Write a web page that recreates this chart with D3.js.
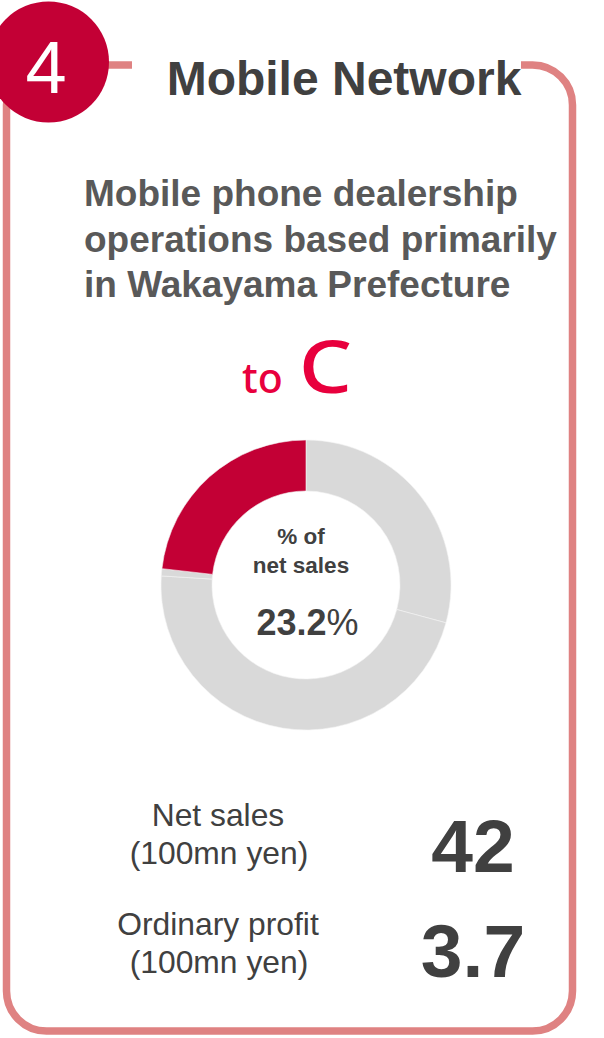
<!DOCTYPE html>
<html>
<head>
<meta charset="utf-8">
<script src="https://cdn.jsdelivr.net/npm/d3@7"></script>
<style>
  html, body { margin: 0; padding: 0; background: #ffffff; }
  svg { display: block; }
</style>
</head>
<body>
<svg id="card" width="604" height="1038"></svg>
<script>
// Segment card: Mobile Network
const segmentNumber = "4";
const segmentTitle = "Mobile Network";
const descriptionLines = [
  "Mobile phone dealership",
  "operations based primarily",
  "in Wakayama Prefecture"
];
const customerPrefix = "to";
const customerType = "C";

// Share of consolidated net sales (%), clockwise from 12 o'clock
const sliceNames = ["Other segment A", "Other segment B", "Other segment C", "Mobile Network"];
const sliceShares = [29.2, 46.8, 0.8, 23.2];
const highlightName = "Mobile Network";
const centerLabelLines = ["% of", "net sales"];

// Key figures
const metricNames = ["Net sales", "Ordinary profit"];
const metricUnits = ["(100mn yen)", "(100mn yen)"];
const metricValues = [42, 3.7];

const RED = "#c30035";
const ACCENT = "#e8003d";
const BORDER = "#df8282";
const GREY = "#d9d9d9";
const DARK = "#404040";
const MID = "#595959";
const SANS = "'Liberation Sans', Arial, sans-serif";
const ROUND = "'Noto Sans', Lato, sans-serif";

const svg = d3.select("#card");

// ---- Card frame ----
const L = 6.5, R = 572.5, T = 65, B = 1031, rad = 40;
const frame = d3.path();
frame.moveTo(521, T);
frame.lineTo(R - rad, T);
frame.arcTo(R, T, R, T + rad, rad);
frame.lineTo(R, B - rad);
frame.arcTo(R, B, R - rad, B, rad);
frame.lineTo(L + rad, B);
frame.arcTo(L, B, L, B - rad, rad);
frame.lineTo(L, T + rad);
frame.arcTo(L, T, L + rad, T, rad);
frame.lineTo(132, T);
svg.append("path")
  .attr("d", frame.toString())
  .attr("fill", "none")
  .attr("stroke", BORDER)
  .attr("stroke-width", 7.5);

// ---- Number badge ----
svg.append("circle")
  .attr("cx", 48.5).attr("cy", 62).attr("r", 60.5)
  .attr("fill", RED);
svg.append("text")
  .attr("x", 46).attr("y", 93)
  .attr("text-anchor", "middle")
  .attr("font-family", SANS)
  .attr("font-size", 74)
  .attr("fill", "#ffffff")
  .text(segmentNumber);

// ---- Title ----
svg.append("text")
  .attr("x", 344).attr("y", 95)
  .attr("text-anchor", "middle")
  .attr("font-family", SANS)
  .attr("font-weight", "bold")
  .attr("font-size", 48)
  .attr("fill", DARK)
  .text(segmentTitle);

// ---- Description ----
svg.append("g")
  .selectAll("text")
  .data(descriptionLines)
  .join("text")
  .attr("x", 84)
  .attr("y", (d, i) => 206 + i * 45.5)
  .attr("font-family", SANS)
  .attr("font-weight", "bold")
  .attr("font-size", 37)
  .attr("fill", MID)
  .text(d => d);

// ---- Customer type ----
svg.append("text")
  .attr("x", 242).attr("y", 393)
  .attr("font-family", ROUND)
  .attr("font-weight", 500)
  .attr("font-size", 41)
  .attr("fill", ACCENT)
  .text(customerPrefix);
svg.append("text")
  .attr("transform", "translate(325.5,393) scale(1.15,1)")
  .attr("text-anchor", "middle")
  .attr("font-family", ROUND)
  .attr("font-weight", 500)
  .attr("font-size", 73)
  .attr("fill", ACCENT)
  .text(customerType);

// ---- Donut ----
const cx = 306, cy = 585, outerR = 145, innerR = 94;
const pie = d3.pie().sort(null).value(d => d.share);
const arc = d3.arc().innerRadius(innerR).outerRadius(outerR);
const slices = sliceNames.map((name, i) => ({ name, share: sliceShares[i] }));

const donut = svg.append("g").attr("transform", `translate(${cx},${cy})`);
donut.selectAll("path")
  .data(pie(slices))
  .join("path")
  .attr("d", arc)
  .attr("fill", d => d.data.name === highlightName ? RED : GREY)
  .attr("stroke", "#f4f4f4")
  .attr("stroke-width", 0.6);

donut.selectAll("text.lbl")
  .data(centerLabelLines)
  .join("text")
  .attr("class", "lbl")
  .attr("x", -5)
  .attr("y", (d, i) => -41 + i * 28.5)
  .attr("text-anchor", "middle")
  .attr("font-family", SANS)
  .attr("font-weight", "bold")
  .attr("font-size", 22.5)
  .attr("fill", DARK)
  .text(d => d);

const highlightShare = slices.find(s => s.name === highlightName).share;
const pct = donut.append("text")
  .attr("x", 1.5)
  .attr("y", 50)
  .attr("text-anchor", "middle")
  .attr("font-family", SANS)
  .attr("font-size", 36)
  .attr("fill", DARK);
pct.append("tspan").attr("font-weight", "bold").text(d3.format(".1f")(highlightShare));
pct.append("tspan").attr("font-weight", "normal").text("%");

// ---- Key figures ----
const rowY = [826, 935];
const figures = svg.append("g");
metricNames.forEach((name, i) => {
  figures.append("text")
    .attr("x", 218).attr("y", rowY[i])
    .attr("text-anchor", "middle")
    .attr("font-family", SANS)
    .attr("font-size", 31.8)
    .attr("fill", DARK)
    .text(name);
  figures.append("text")
    .attr("x", 219).attr("y", rowY[i] + 38)
    .attr("text-anchor", "middle")
    .attr("font-family", SANS)
    .attr("font-size", 31.8)
    .attr("fill", DARK)
    .text(metricUnits[i]);
  figures.append("text")
    .attr("x", 473).attr("y", rowY[i] + 46 - (i === 1 ? 4 : 0))
    .attr("text-anchor", "middle")
    .attr("font-family", SANS)
    .attr("font-weight", "bold")
    .attr("font-size", 75)
    .attr("fill", DARK)
    .text(String(metricValues[i]));
});
</script>
</body>
</html>
